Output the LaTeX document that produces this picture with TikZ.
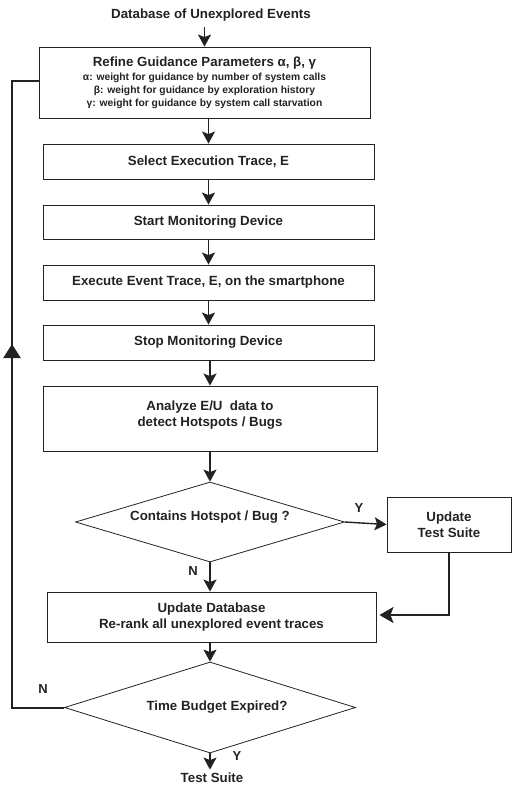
\documentclass[tikz,border=0pt]{standalone}
\usepackage{fontspec}
\setmainfont{Liberation Sans}
\usetikzlibrary{arrows.meta,shapes.geometric}
\definecolor{ink}{HTML}{222222}
\begin{document}
\begin{tikzpicture}[x=1pt,y=-1pt,
  every node/.style={font=\bfseries\fontsize{13.3}{16}\selectfont, text=ink},
  box/.style={draw=ink, line width=0.9pt, rectangle, inner sep=0pt, align=center},
  dec/.style={draw=ink, line width=0.8pt, diamond, inner sep=0pt, align=center},
  arr/.style={draw=ink, line width=1.4pt, -{Stealth[length=12pt,width=13pt,inset=2.5pt]}},
  lp/.style={draw=ink, line width=2pt},
  lparr/.style={draw=ink, line width=2pt, -{Stealth[length=14pt,width=16pt,inset=3pt]}},
  uparr/.style={draw=ink, line width=2pt, -{Triangle[length=14pt,width=17pt]}},
  lbl/.style={font=\bfseries\fontsize{13}{15}\selectfont}
]
\useasboundingbox (0,0) rectangle (512,785);

\node (title) at (211,15) {Database of Unexplored Events};
\node[box, minimum width=331, minimum height=71, font=\bfseries\fontsize{10.3}{13}\selectfont] (b1) at (204.5,82.5)
  {{\fontsize{13.3}{15}\selectfont Refine Guidance Parameters α, β, γ}\\[1pt]
   α: weight for guidance by number of system calls\\
   β: weight for guidance by exploration history\\
   γ: weight for guidance by system call starvation};
\node[box, minimum width=331, minimum height=35] (b2) at (208.5,161.5) {Select Execution Trace, E};
\node[box, minimum width=331, minimum height=34] (b3) at (208.5,222) {Start Monitoring Device};
\node[box, minimum width=331, minimum height=35] (b4) at (208.5,282.5) {Execute Event Trace, E, on the smartphone};
\node[box, minimum width=331, minimum height=35] (b5) at (208.5,342.5) {Stop Monitoring Device};
\node[box, minimum width=334, minimum height=65] (b6) at (210,418.5) {Analyze E/U\ \ data to\\detect Hotspots / Bugs\\[-6pt]\mbox{}};
\node[dec, minimum width=269, minimum height=80, aspect=3.36] (d1) at (210,522) {Contains Hotspot / Bug ?\\[-3pt]\mbox{}};
\node[box, minimum width=124, minimum height=55] (ts) at (449,524.5) {Update\\Test Suite};
\node[box, minimum width=329, minimum height=50] (db) at (211.5,617) {Update Database\\Re-rank all unexplored event traces};
\node[dec, minimum width=291, minimum height=91, aspect=3.2] (d2) at (210,707.5) {\hspace*{14pt}Time Budget Expired?};
\node (out) at (212,778) {Test Suite};

\node[lbl] (ly1) at (359,508) {Y};
\node[lbl] (ln1) at (193,571) {N};
\node[lbl] (ln2) at (43,689) {N};
\node[lbl] (ly2) at (237,756) {Y};

\draw[arr] (title.south -| b1.north) ++(0,2) -- (b1.north);
\draw[arr] (b1.south -| b2.north) -- (b2.north);
\draw[arr] (b2.south) -- (b3.north);
\draw[arr] (b3.south) -- (b4.north);
\draw[arr] (b4.south) -- (b5.north);
\draw[arr] (b5.south -| b6.north) -- (b6.north);
\draw[arr] (b6.south) -- (d1.north);
\draw[arr] (d1.south) -- (d1.south |- db.north);
\draw[arr] (db.south -| d2.north) -- (d2.north);
\draw[arr] (d2.south) -- (d2.south |- out.north);
\draw[arr] (d1.east) -- (ts.west);
\draw[lparr] (ts.south) |- ([xshift=3pt,yshift=2pt]db.east);

\coordinate (lx1) at (12,707.5);
\coordinate (lx2) at (12,81);
\coordinate (lmid) at (12,344);
\draw[lp] (d2.west) -- (lx1) -- (lx2) -- (b1.west |- lx2);
\draw[uparr] (lx1) -- (lmid);
\end{tikzpicture}
\end{document}
